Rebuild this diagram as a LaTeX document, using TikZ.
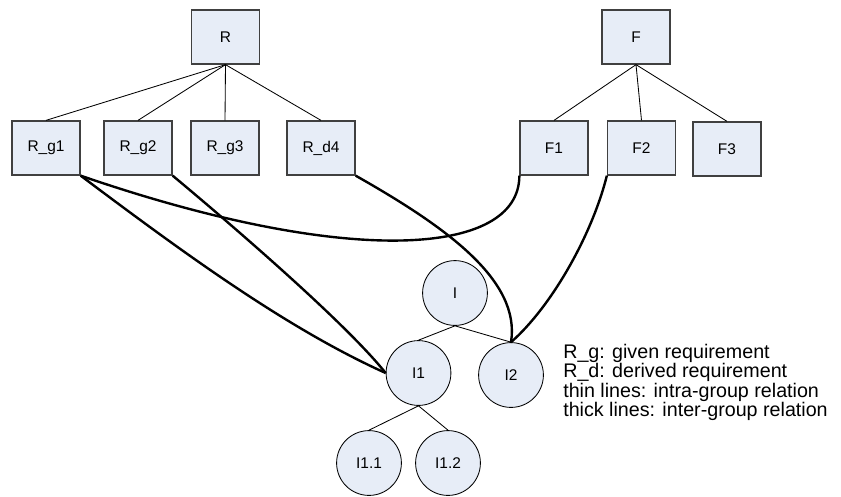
\documentclass[tikz,border=0pt]{standalone}
\usepackage{fontspec}
\setmainfont{Liberation Sans}
\usetikzlibrary{positioning}
\definecolor{boxfill}{RGB}{231,237,247}
\definecolor{boxline}{RGB}{64,64,64}

\begin{document}
\begin{tikzpicture}[
    x=0.025cm, y=-0.025cm,
    font=\fontsize{11}{13.3}\selectfont,
    req/.style={draw=boxline, line width=0.9pt, fill=boxfill, minimum width=1.7cm, minimum height=1.35cm, inner sep=0pt},
    impl/.style={circle, draw=black, line width=0.6pt, fill=boxfill, minimum size=1.62cm, inner sep=0pt},
    intra/.style={line width=0.6pt},
    inter/.style={line width=1.7pt}
]
\useasboundingbox (0,0) rectangle (841,496);
\node[req] (R) at (225.5,37) {R};
\node[req] (Rg1) at (46,148) {R\_g1};
\node[req] (Rg2) at (138,148) {R\_g2};
\node[req] (Rg3) at (225,148) {R\_g3};
\node[req] (Rd4) at (321,148) {R\_d4};
\node[req] (F) at (636,37) {F};
\node[req] (F1) at (554,148) {F1};
\node[req] (F2) at (641.5,148) {F2};
\node[req] (F3) at (727,149) {F3};
\node[impl] (I) at (455,293) {I};
\node[impl] (I1) at (418.5,373) {I1};
\node[impl] (I2) at (511,375) {I2};
\node[impl] (I11) at (369,463) {I1.1};
\node[impl] (I12) at (448,463) {I1.2};
\node[anchor=north west, inner sep=0pt, align=left, font=\fontsize{14}{13.7}\selectfont] (legend) at (563,344)
    {R\_g: given requirement\\R\_d: derived requirement\\thin lines: intra-group relation\\thick lines: inter-group relation};
% thin lines
\foreach \c in {Rg1,Rg2,Rg3,Rd4}
    \draw[intra] (R.south) -- (\c.north);
\foreach \c in {F1,F2,F3}
    \draw[intra] (F.south) -- (\c.north);
\draw[intra] (I.south) -- (I1.north);
\draw[intra] (I.south) -- (I2.north);
\draw[intra] (I1.south) -- (I11.north);
\draw[intra] (I1.south) -- (I12.north);
% thick lines
\draw[inter] (Rg1.south east) .. controls +(267,92) and +(0,81) .. (F1.south west);
\draw[inter] (Rg1.south east) .. controls +(100,75) and +(-100,-45) .. (I1.west);
\draw[inter] (Rg2.south east) .. controls +(60,50) and +(-40,-50) .. (I1.west);
\draw[inter] (Rd4.south east) .. controls +(90,51) and +(10,-62) .. (I2.north);
\draw[inter] (F2.south west) .. controls +(-15,60) and +(40,-35) .. (I2.north);
\end{tikzpicture}
\end{document}
